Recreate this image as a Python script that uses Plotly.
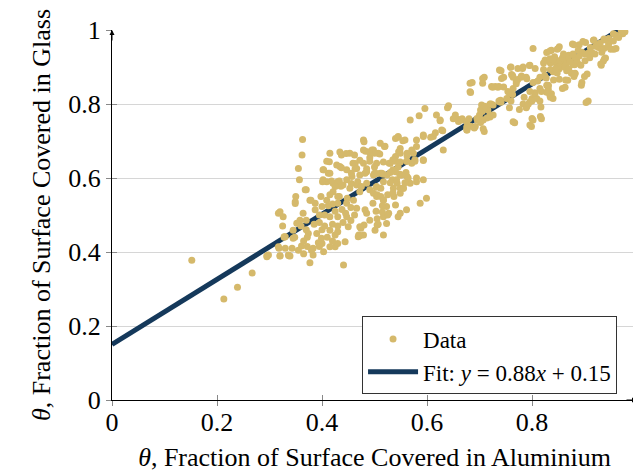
import plotly.graph_objects as go

# Read-off data: theta (aluminium) vs theta (glass)
alu_low = [0.152,0.213,0.239,0.267,0.295,0.298,0.295,0.318,0.328,0.337,0.343,0.320,0.348,0.317,0.330,0.339,0.320]
gls_low = [0.378,0.273,0.305,0.343,0.390,0.392,0.387,0.410,0.440,0.390,0.410,0.390,0.440,0.414,0.410,0.389,0.389]

alu_mid = [0.363,0.362,0.355,0.357,0.370,0.349,0.350,0.317,0.326,0.325,0.328,0.345,0.345,0.361,0.377,0.383,0.403,0.383,0.400,0.425,
           0.441,0.444,0.425,0.415,0.430,0.400,0.390,0.370,0.358,0.370,0.364,0.387,0.377,0.387,0.400,0.409,0.415,0.430,0.425,0.447,
           0.450,0.472,0.479,0.470,0.501,0.517,0.505,0.491,0.482,0.466,0.460,0.447,0.430,0.421,0.421,0.430,0.436,0.409,0.402,0.412,
           0.402,0.409,0.415,0.434,0.437,0.453,0.462,0.459,0.434,0.447,0.466,0.472,0.457,0.447,0.466,0.453,0.472,0.485,0.491,0.504,
           0.504,0.497,0.517,0.523,0.485,0.517,0.525,0.545,0.561,0.540,0.537,0.549,0.555,0.543,0.534,0.549,0.524,0.511,0.498,0.485,
           0.479,0.491,0.504,0.507,0.498,0.479,0.479,0.511,0.519,0.530,0.540,0.549,0.540,0.558,0.574,0.571,0.562,0.577,0.593,0.580,
           0.593,0.612,0.628,0.631,0.625,0.568,0.562,0.568,0.580,0.593,0.599,0.587,0.549,0.523,0.472,0.430]
gls_mid = [0.704,0.662,0.626,0.595,0.568,0.536,0.550,0.505,0.495,0.470,0.441,0.459,0.437,0.416,0.371,0.392,0.401,0.410,0.423,0.414,
           0.365,0.428,0.446,0.459,0.455,0.460,0.450,0.460,0.486,0.486,0.505,0.514,0.540,0.532,0.523,0.540,0.495,0.495,0.510,0.495,
           0.468,0.468,0.446,0.446,0.459,0.446,0.473,0.486,0.514,0.518,0.540,0.532,0.550,0.563,0.586,0.590,0.578,0.590,0.595,0.613,
           0.622,0.645,0.667,0.670,0.662,0.667,0.662,0.640,0.631,0.622,0.626,0.608,0.604,0.595,0.581,0.572,0.563,0.586,0.568,0.577,
           0.550,0.532,0.541,0.523,0.505,0.495,0.500,0.495,0.514,0.527,0.550,0.559,0.572,0.586,0.595,0.608,0.608,0.613,0.608,0.617,
           0.640,0.645,0.640,0.667,0.676,0.676,0.703,0.694,0.685,0.640,0.658,0.680,0.707,0.703,0.667,0.640,0.645,0.649,0.649,0.703,
           0.716,0.712,0.730,0.676,0.757,0.757,0.604,0.586,0.600,0.595,0.545,0.532,0.572,0.477,0.444,0.423]

alu_core = [0.349,0.320,0.330,0.336,0.380,0.415,0.469,0.474,0.480,0.374,0.399,0.393,0.405,0.360,0.352,
            0.480,0.545,0.495,0.483,0.446,0.414,0.428,0.437,0.463,0.472,0.491,0.510,0.540,0.549,0.562,0.545,0.403,0.415,0.463,0.456,
            0.485,0.482,0.500,0.514,0.535,0.548,0.560,0.401,0.418,0.433,0.440,0.425,0.456,0.468,0.475,0.368,0.379,0.398,0.415,0.433,
            0.448,0.430,0.395,0.405,0.412,0.420,0.438,0.445,0.455,0.440,0.420,0.395,0.385,0.430,0.455,0.462,0.410,0.420,0.395,0.365,
            0.372,0.355,0.365,0.372]
gls_core = [0.531,0.509,0.441,0.392,0.405,0.414,0.441,0.464,0.473,0.450,0.437,0.425,0.470,0.470,0.478,
            0.698,0.710,0.676,0.672,0.666,0.644,0.635,0.628,0.639,0.648,0.655,0.665,0.645,0.667,0.660,0.630,0.622,0.613,0.625,0.613,
            0.625,0.613,0.613,0.613,0.622,0.610,0.615,0.590,0.592,0.592,0.581,0.577,0.585,0.590,0.577,0.568,0.540,0.550,0.555,0.550,
            0.545,0.532,0.480,0.500,0.525,0.530,0.515,0.505,0.520,0.480,0.475,0.500,0.475,0.470,0.485,0.500,0.440,0.430,0.415,0.430,
            0.440,0.405,0.395,0.415]

alu_bridge = [0.596,0.641,0.585,0.618,0.625,0.660,0.667,0.680,0.695,0.676,0.683,0.545,0.554,0.593,0.607,0.616,0.630,0.571,0.580,0.562,
              0.546,0.520,0.500,0.490,0.593,0.577,0.561,0.549,0.535,0.528,0.517,0.500,0.504,0.517,0.530,0.540,0.552,0.542,0.530,0.517,
              0.536,0.555,0.564,0.558,0.580,0.512,0.503,0.498,0.505,0.512,0.517,0.525,0.535,0.515,0.549,0.527,0.515,0.503,0.505,0.507]
gls_bridge = [0.788,0.795,0.768,0.770,0.755,0.758,0.760,0.760,0.761,0.730,0.740,0.712,0.701,0.712,0.710,0.722,0.728,0.676,0.685,0.667,
              0.671,0.686,0.667,0.670,0.647,0.645,0.645,0.643,0.649,0.640,0.643,0.630,0.612,0.610,0.615,0.617,0.608,0.595,0.587,0.590,
              0.572,0.572,0.600,0.587,0.590,0.572,0.575,0.559,0.555,0.550,0.540,0.555,0.560,0.525,0.505,0.505,0.508,0.510,0.490,0.475]

alu_upper = [0.682,0.682,0.706,0.706,0.723,0.730,0.737,0.738,0.742,0.759,0.761,0.773,0.782,0.796,0.806,0.825,0.834,0.846,0.840,0.827,
             0.815,0.790,0.779,0.770,0.764,0.764,0.757,0.752,0.738,0.726,0.720,0.704,0.702,0.700,0.716,0.726,0.720,0.707,0.696,0.654,
             0.650,0.676,0.692,0.707,0.676,0.764,0.796,0.800,0.816,0.790,0.796,0.783,0.800,0.809,0.806,0.815,0.831,0.834,0.831,0.785,
             0.639,0.660,0.667,0.676,0.676,0.690,0.709,0.702,0.705,0.714,0.720,0.710,0.722,0.737,0.741,0.757,0.760,0.763,0.754,0.767,
             0.770,0.773,0.789,0.799,0.802,0.818,0.793,0.800,0.815,0.805,0.818,0.796,0.802,0.811,0.789,0.783,0.795,0.802,0.780,0.763,
             0.760,0.746,0.741,0.709,0.686,0.683,0.725,0.735,0.746,0.740,0.776,0.817,0.831,0.837,0.840,0.824,0.834,0.837,0.850,0.843,
             0.846,0.855,0.852,0.862,0.870,0.866,0.868,0.863,0.895,0.905,0.907,0.882,0.878,0.887,0.880,0.890,0.902,0.895,0.907,0.918,
             0.921,0.933,0.931,0.940,0.940,0.946,0.960,0.960,0.973,0.977,0.946]
gls_upper = [0.856,0.833,0.869,0.856,0.847,0.847,0.847,0.892,0.869,0.899,0.880,0.896,0.896,0.905,0.896,0.919,0.922,0.919,0.887,0.870,
             0.872,0.868,0.872,0.860,0.872,0.842,0.829,0.815,0.806,0.797,0.800,0.797,0.784,0.770,0.784,0.770,0.765,0.757,0.757,0.770,
             0.760,0.739,0.739,0.733,0.730,0.752,0.743,0.761,0.766,0.793,0.806,0.800,0.815,0.815,0.830,0.842,0.851,0.824,0.840,0.818,
             0.790,0.753,0.757,0.753,0.735,0.735,0.726,0.750,0.780,0.762,0.770,0.794,0.800,0.808,0.805,0.790,0.808,0.826,0.834,0.749,
             0.855,0.866,0.790,0.739,0.757,0.760,0.800,0.808,0.808,0.830,0.834,0.834,0.858,0.862,0.872,0.900,0.904,0.950,0.876,0.877,
             0.900,0.872,0.890,0.872,0.858,0.831,0.845,0.845,0.846,0.810,0.785,0.792,0.849,0.828,0.815,0.877,0.914,0.945,0.950,0.928,
             0.910,0.910,0.895,0.918,0.932,0.890,0.864,0.845,0.858,0.881,0.808,0.883,0.907,0.910,0.960,0.960,0.966,0.940,0.937,0.973,
             0.956,0.940,0.908,0.924,0.973,0.977,0.986,0.950,0.990,0.995,0.963]

alu_top = [0.828,0.834,0.848,0.852,0.877,0.897,0.917,0.937,0.956,0.972,0.970,0.835,0.840,0.822,0.822,0.835,0.848,0.861,0.854,0.868,
           0.881,0.881,0.901,0.901,0.914,0.927,0.937,0.911,0.875,0.864,0.852,0.841,0.828,0.828,0.835,0.858,0.880,0.882,0.900,0.894,
           0.936,0.938,0.932,0.950,0.903,0.850,0.858,0.865,0.872,0.878,0.885,0.890,0.893,0.860,0.870,0.845,0.888,0.910,0.920,0.925,
           0.945,0.955,0.965,0.930,0.955]
gls_top = [0.939,0.943,0.948,0.955,0.962,0.969,0.972,0.976,0.948,0.995,0.998,0.911,0.920,0.911,0.893,0.893,0.884,0.901,0.917,0.922,
           0.926,0.906,0.935,0.917,0.939,0.953,0.950,0.953,0.883,0.865,0.867,0.865,0.851,0.832,0.818,0.842,0.874,0.882,0.874,0.851,
           0.916,0.922,0.905,0.948,0.804,0.900,0.925,0.908,0.915,0.935,0.918,0.930,0.905,0.935,0.895,0.895,0.945,0.925,0.935,0.960,
           0.955,0.970,0.980,0.965,0.990]

data_x = alu_low + alu_mid + alu_core + alu_bridge + alu_upper + alu_top
data_y = gls_low + gls_mid + gls_core + gls_bridge + gls_upper + gls_top

fit_slope = 0.88
fit_intercept = 0.15
fit_x = [0.0, 0.975]
fit_y = [fit_slope * v + fit_intercept for v in fit_x]

tick_vals = [0, 0.2, 0.4, 0.6, 0.8, 1]
tick_text = ["0", "0.2", "0.4", "0.6", "0.8", "1"]

FONT = "Liberation Serif"
GOLD = "#d5b96b"
NAVY = "#15395b"

fig = go.Figure()
fig.add_trace(go.Scatter(
    x=fit_x, y=fit_y, mode="lines",
    line=dict(color=NAVY, width=5),
    name="Fit: <i>y</i> = 0.88<i>x</i> + 0.15", legendrank=2,
))
fig.add_trace(go.Scatter(
    x=data_x, y=data_y, mode="markers",
    marker=dict(color=GOLD, size=7, line=dict(width=0)),
    name="Data", legendrank=1,
))
# helper overlay axes (inside half of the crossing tick marks)
fig.add_trace(go.Scatter(x=[None], y=[None], xaxis="x2", yaxis="y2",
                         showlegend=False, hoverinfo="skip"))

axis_common = dict(range=[0, 1], tickvals=tick_vals, ticktext=tick_text,
                   tickfont=dict(family=FONT, size=26, color="black"),
                   ticks="outside", ticklen=5, tickcolor="#888", tickwidth=1,
                   showline=True, linecolor="black", linewidth=1,
                   zeroline=False, fixedrange=True, automargin=False)

# the page adds an 8px body margin, so the figure is drawn 8px smaller
fig.update_layout(
    width=633, height=466,
    margin=dict(l=104, r=4, t=22, b=74, autoexpand=False),
    paper_bgcolor="white", plot_bgcolor="white",
    font=dict(family=FONT, color="black"),
    xaxis=dict(**axis_common, showgrid=False, ticklabelstandoff=-6,
               title=dict(text="<i>θ</i>, Fraction of Surface Covered in Aluminium",
                          font=dict(family=FONT, size=26), standoff=11)),
    yaxis=dict(**axis_common, showgrid=True, gridcolor="#d6d6d6", gridwidth=1.2,
               title=dict(text="<i>θ</i>, Fraction of Surface Covered in Glass",
                          font=dict(family=FONT, size=26), standoff=10)),
    xaxis2=dict(overlaying="x", matches="x", range=[0, 1], tickvals=tick_vals,
                ticks="inside", ticklen=5, tickcolor="#888", showticklabels=False,
                showgrid=False, showline=False, zeroline=False, side="bottom", anchor="y2"),
    yaxis2=dict(overlaying="y", matches="y", range=[0, 1], tickvals=tick_vals,
                ticks="inside", ticklen=5, tickcolor="#888", showticklabels=False,
                showgrid=False, showline=False, zeroline=False, side="left", anchor="x2"),
    legend=dict(x=0.962, y=0.015, xanchor="right", yanchor="bottom",
                bordercolor="#333", borderwidth=1, bgcolor="white",
                font=dict(family=FONT, size=23), itemwidth=50,
                tracegroupgap=0),
    showlegend=True,
)

# arrow heads on axis lines
fig.add_annotation(x=1, y=0, xref="x", yref="y", ax=-12, ay=0, text="",
                   showarrow=True, arrowhead=2, arrowsize=1, arrowwidth=1, arrowcolor="black")
fig.add_annotation(x=0, y=1, xref="x", yref="y", ax=0, ay=12, text="",
                   showarrow=True, arrowhead=2, arrowsize=1, arrowwidth=1, arrowcolor="black")

fig.write_html("out.html")
